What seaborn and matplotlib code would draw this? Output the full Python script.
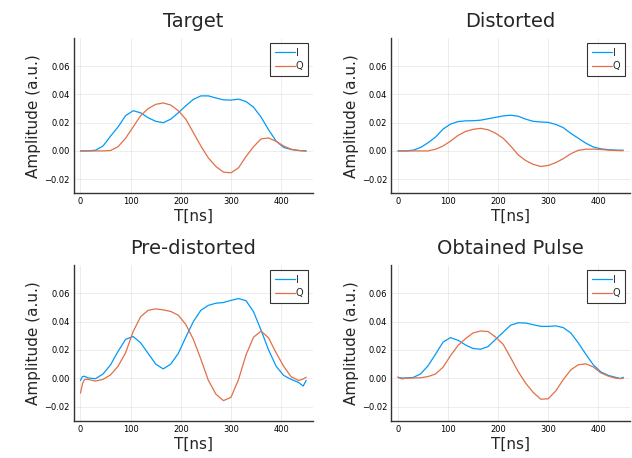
"""Target / distorted / pre-distorted / obtained I-Q pulse comparison."""

import matplotlib
matplotlib.use("Agg")
import matplotlib.pyplot as plt
import pandas as pd
import seaborn as sns
from matplotlib.ticker import FuncFormatter

# sample times (ns)
t_ns = [0, 4, 8, 15, 30, 45, 60, 75, 90, 105, 120, 135, 150, 165, 180, 195,
        210, 225, 240, 255, 270, 285, 300, 315, 330, 345, 360, 375, 390, 405,
        420, 435, 444, 450]

target_i = [0.0, 0.0, 0.0, 0.0, 0.0005, 0.0035, 0.0105, 0.017, 0.025, 0.0285,
            0.027, 0.0235, 0.021, 0.020, 0.0225, 0.027, 0.032, 0.0365, 0.039,
            0.039, 0.0375, 0.0362, 0.036, 0.0367, 0.035, 0.031, 0.024, 0.015,
            0.007, 0.0025, 0.001, 0.0003, 0.0001, 0.0]
target_q = [0.0, 0.0, 0.0, 0.0, 0.0, 0.0, 0.0003, 0.003, 0.009, 0.017, 0.025,
            0.030, 0.033, 0.034, 0.0325, 0.0285, 0.0225, 0.013, 0.0035, -0.005,
            -0.011, -0.015, -0.0155, -0.012, -0.004, 0.003, 0.0085, 0.0092,
            0.0068, 0.0035, 0.0012, 0.0003, 0.0001, 0.0]

distorted_i = [0.0, 0.0, 0.0, 0.0, 0.0005, 0.0024, 0.0058, 0.0098, 0.0155,
               0.019, 0.0208, 0.0213, 0.0214, 0.0218, 0.0228, 0.0238, 0.0248,
               0.0253, 0.0246, 0.0225, 0.021, 0.0205, 0.0202, 0.0188, 0.0165,
               0.0125, 0.009, 0.0055, 0.0028, 0.0015, 0.0009, 0.0006, 0.0005,
               0.0005]
distorted_q = [0.0, 0.0, 0.0, 0.0, 0.0, 0.0, 0.0, 0.0012, 0.0035, 0.007, 0.011,
               0.0138, 0.0153, 0.016, 0.015, 0.0125, 0.009, 0.0035, -0.0028,
               -0.0068, -0.0095, -0.011, -0.0103, -0.0083, -0.0055, -0.002,
               0.0004, 0.0012, 0.0013, 0.001, 0.0006, 0.0003, 0.0002, 0.0002]

predist_i = [-0.0015, 0.0012, 0.0014, 0.0002, -0.0003, 0.003, 0.0095, 0.019,
             0.0275, 0.0295, 0.025, 0.0175, 0.010, 0.0066, 0.010, 0.0175,
             0.029, 0.040, 0.048, 0.0515, 0.053, 0.0535, 0.055, 0.0563, 0.0548,
             0.047, 0.034, 0.020, 0.0085, 0.002, -0.0008, -0.003, -0.0055,
             -0.0015]
predist_q = [-0.0105, -0.004, -0.0008, -0.0008, -0.002, -0.0008, 0.0024,
             0.0085, 0.018, 0.033, 0.0435, 0.048, 0.049, 0.0483, 0.0472, 0.0445,
             0.038, 0.0275, 0.0135, -0.0015, -0.0112, -0.0158, -0.0135, -0.001,
             0.0165, 0.029, 0.0333, 0.0285, 0.018, 0.0085, 0.001, -0.0016,
             -0.0005, 0.0007]

obtained_i = [0.0005, 0.0003, 0.0002, 0.0002, 0.0005, 0.003, 0.0088, 0.017,
              0.0255, 0.0287, 0.0268, 0.0235, 0.021, 0.0205, 0.0224, 0.0275,
              0.0325, 0.0375, 0.0392, 0.039, 0.0378, 0.0367, 0.0366, 0.037,
              0.0358, 0.032, 0.025, 0.017, 0.0095, 0.0045, 0.002, 0.0006,
              -0.0002, 0.0007]
obtained_q = [0.001, 0.0, -0.0005, 0.0, 0.0002, 0.0003, 0.0012, 0.003, 0.0078,
              0.016, 0.0232, 0.028, 0.032, 0.0334, 0.033, 0.029, 0.024, 0.0145,
              0.0047, -0.0035, -0.010, -0.0148, -0.0145, -0.009, -0.001, 0.0059,
              0.0095, 0.0102, 0.008, 0.0038, 0.0015, 0.0, -0.0002, 0.0]

panel_titles = ["Target", "Distorted", "Pre-distorted", "Obtained Pulse"]
panel_data = [(target_i, target_q), (distorted_i, distorted_q),
              (predist_i, predist_q), (obtained_i, obtained_q)]

x_ticks = [0, 100, 200, 300, 400]
y_ticks = [-0.02, 0.0, 0.02, 0.04, 0.06]

sns.set_style("white")
plt.rcParams["font.family"] = ["DejaVu Sans"]

palette = {"I": "#009af9", "Q": "#e26f46"}

fig = plt.figure(figsize=(6.32, 4.58), dpi=100)
# axes boxes in figure fractions (left, bottom, width, height)
boxes = [(0.1166, 0.578, 0.3786, 0.339), (0.619, 0.578, 0.378, 0.339),
         (0.1166, 0.0814, 0.3786, 0.34), (0.619, 0.0814, 0.378, 0.34)]

minus_fmt = FuncFormatter(lambda v, _: f"{v:.2f}".replace("-", "\u2212"))

for box, title, (i_vals, q_vals) in zip(boxes, panel_titles, panel_data):
    ax = fig.add_axes(box)
    df = pd.DataFrame({
        "t": t_ns * 2,
        "amp": list(i_vals) + list(q_vals),
        "ch": ["I"] * len(t_ns) + ["Q"] * len(t_ns),
    })
    sns.lineplot(data=df, x="t", y="amp", hue="ch", palette=palette,
                 linewidth=0.9, ax=ax, sort=False)

    ax.set_xlim(-13.5, 463.5)
    ax.set_ylim(-0.03, 0.08)
    ax.set_xticks(x_ticks)
    ax.set_yticks(y_ticks)
    ax.yaxis.set_major_formatter(minus_fmt)
    ax.grid(True, color="black", alpha=0.1, linewidth=0.5)
    for side in ("top", "right"):
        ax.spines[side].set_visible(False)
    for side in ("left", "bottom"):
        ax.spines[side].set_color("#333333")
        ax.spines[side].set_linewidth(1.0)
    ax.tick_params(direction="in", length=3, width=0.8, labelsize=6,
                   colors="#333333", labelcolor="black", pad=3)
    ax.set_title(title, fontsize=14, pad=8)
    ax.set_xlabel("T[ns]", fontsize=11, labelpad=2)
    ax.set_ylabel("Amplitude (a.u.)", fontsize=11, labelpad=2)

    leg = ax.legend(loc="upper right", fontsize=7, frameon=True,
                    fancybox=False, edgecolor="black", handlelength=2.0,
                    handletextpad=0.1, borderpad=0.5, labelspacing=0.35,
                    borderaxespad=0.5)
    leg.get_frame().set_linewidth(0.8)

fig.savefig("out.png", dpi=100)
